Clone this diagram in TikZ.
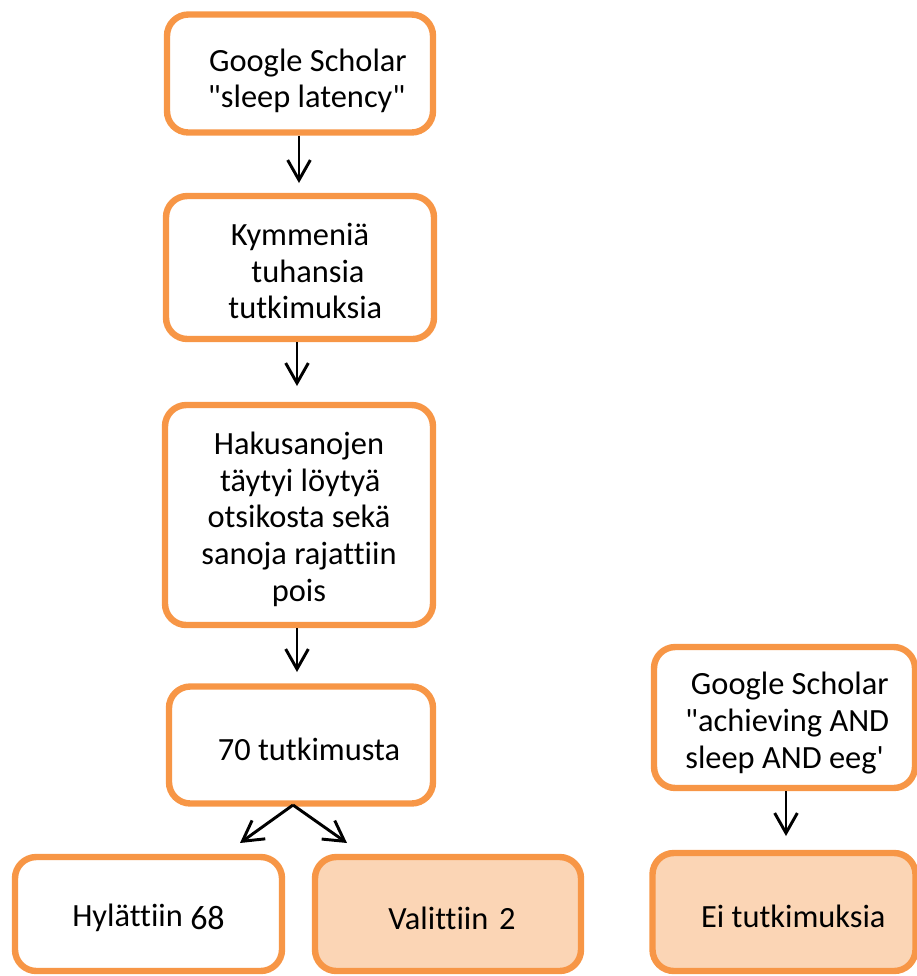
\documentclass[tikz,border=0pt]{standalone}
\usepackage{fontspec}
\setmainfont[Ligatures={NoCommon,TeXOff},Contextuals=NoAlternate]{Carlito}
\usetikzlibrary{arrows.meta}
\definecolor{orangeline}{HTML}{F79646}
\definecolor{peach}{HTML}{FBD5B5}
\newcommand\mystrut[1]{\rule{0pt}{#1}}
\begin{document}
\begin{tikzpicture}[x=0.75pt,y=-0.75pt,
  box/.style={draw=orangeline, line width=4.8pt, rounded corners=16pt, fill=white,
    inner sep=0pt, align=center, font=\fontsize{24.3}{27.5}\selectfont, text=black},
  selbox/.style={box, fill=peach},
  flow/.style={line width=2.2pt, -{Straight Barb[length=15pt,width=17pt,line width=2.2pt]}}]
\useasboundingbox (0,0) rectangle (917,976);
\node[box, minimum width=266*0.75pt, minimum height=118*0.75pt] (gs1) at (300,73.5) {\mystrut{28pt}\hspace{12pt}Google Scholar\\\hspace{10pt}"sleep latency"};
\node[box, minimum width=268*0.75pt, minimum height=143*0.75pt] (kym) at (300,267.5) {\mystrut{22pt}Kymmeniä\\\hspace{12pt}tuhansia\\\hspace{8pt}tutkimuksia};
\node[box, minimum width=268*0.75pt, minimum height=220*0.75pt] (hak) at (299,515) {\mystrut{23pt}Hakusanojen\\\hspace{2pt}täytyi löytyä\\otsikosta sekä\\sanoja rajattiin\\pois};
\node[box, minimum width=264*0.75pt, minimum height=117*0.75pt] (n70) at (301,745) {\mystrut{24pt}\hspace{12pt}70 tutkimusta};
\node[box, minimum width=267*0.75pt, minimum height=114*0.75pt] (hyl) at (148.5,914) {\mystrut{22pt}Hylättiin \raisebox{-2.5pt}{\fontsize{25.5}{27}\selectfont 68}};
\node[selbox, minimum width=266*0.75pt, minimum height=114*0.75pt] (val) at (448,914) {\mystrut{23pt}\hspace{6pt}Valittiin\,\,2};
\node[box, minimum width=261*0.75pt, minimum height=141*0.75pt] (gs2) at (784.5,717.5) {\mystrut{25pt}\hspace{8pt}Google Scholar\\\hspace{4pt}"achieving AND\\sleep AND eeg'};
\node[selbox, minimum width=263*0.75pt, minimum height=118*0.75pt] (ei) at (784,912) {\mystrut{23pt}\hspace{14pt}Ei tutkimuksia};
\coordinate (e1) at (299,183);
\coordinate (e2) at (297,386);
\coordinate (e3) at (297,672);
\coordinate (split) at (293,805);
\coordinate (e4) at (240,843);
\coordinate (e5) at (347,843);
\coordinate (e6) at (786,836);
\draw[flow] (gs1.south -| e1) -- (e1);
\draw[flow] (kym.south -| e2) -- (e2);
\draw[flow] (hak.south -| e3) -- (e3);
\draw[flow] (split) -- (e4);
\draw[flow] (split) -- (e5);
\draw[flow] (gs2.south -| e6) -- (e6);
\end{tikzpicture}
\end{document}
